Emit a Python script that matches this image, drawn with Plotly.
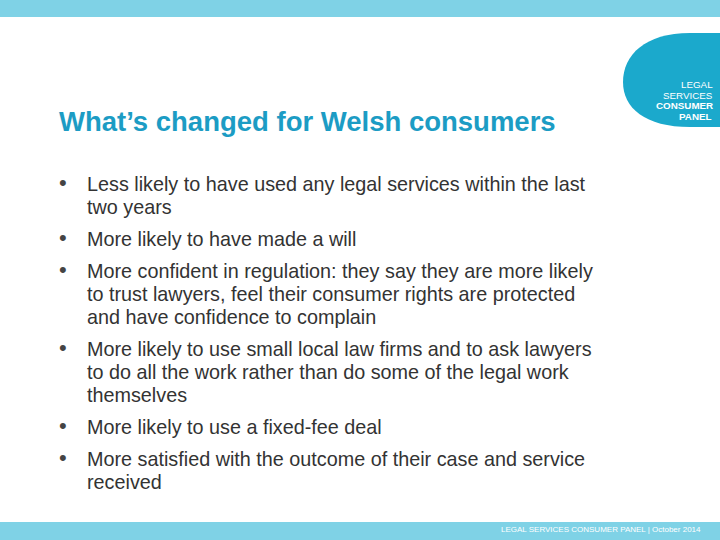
import plotly.graph_objects as go

# --- SLIDE CONTENT ---
title = "What’s changed for Welsh consumers"
bullets = [
    ["Less likely to have used any legal services within the last", "two years"],
    ["More likely to have made a will"],
    ["More confident in regulation: they say they are more likely",
     "to trust lawyers, feel their consumer rights are protected",
     "and have confidence to complain"],
    ["More likely to use small local law firms and to ask lawyers",
     "to do all the work rather than do some of the legal work",
     "themselves"],
    ["More likely to use a fixed-fee deal"],
    ["More satisfied with the outcome of their case and service", "received"],
]
logo_lines = ["LEGAL", "SERVICES", "CONSUMER", "PANEL"]
footer = "LEGAL SERVICES CONSUMER PANEL | October 2014"

FONT = "Liberation Sans, Arial, sans-serif"
LIGHT = "#7fd2e6"
BLUE = "#1ba9cc"

fig = go.Figure()
fig.add_trace(go.Scatter(x=[0, 720], y=[0, 540], mode="markers", marker=dict(opacity=0), hoverinfo="skip"))

# top / bottom bars
fig.add_shape(type="rect", x0=0, x1=720, y0=0, y1=17, fillcolor=LIGHT, line_width=0)
fig.add_shape(type="rect", x0=0, x1=720, y0=522, y1=540, fillcolor=LIGHT, line_width=0)

# logo blob
fig.add_shape(type="path",
              path="M 720 33 L 690 33 C 645 33 623 55 623 82 C 623 108 645 127 690 127 L 720 127 Z",
              fillcolor=BLUE, line_width=0)
logo_y = [84, 95, 105.5, 116]
for i, t in enumerate(logo_lines):
    bold = i >= 2
    fig.add_annotation(x=715 if i < 3 else 713, y=logo_y[i], text=f"<b>{t}</b>" if bold else t,
                       xanchor="right", yanchor="middle", showarrow=False,
                       font=dict(family=FONT, size=9.8, color="white"))

fig.add_annotation(x=57, y=121, text=f"<b>{title}</b>", xanchor="left", yanchor="middle",
                   showarrow=False, font=dict(family=FONT, size=27.5, color="#1c9cc4"))

y = 184
for b in bullets:
    fig.add_annotation(x=57, y=y - 2, text="•", xanchor="left", yanchor="middle",
                       showarrow=False, font=dict(family=FONT, size=22, color="#444"))
    for line in b:
        fig.add_annotation(x=85, y=y, text=line, xanchor="left", yanchor="middle",
                           showarrow=False, font=dict(family=FONT, size=19.8, color="#333"))
        y += 23
    y += 9

fig.add_annotation(x=703, y=529, text=footer, xanchor="right", yanchor="middle",
                   showarrow=False, font=dict(family=FONT, size=8, color="white"))

fig.update_xaxes(range=[0, 720], visible=False, fixedrange=True)
fig.update_yaxes(range=[540, 0], visible=False, fixedrange=True)
fig.update_layout(width=720, height=540, margin=dict(l=0, r=0, t=0, b=0),
                  paper_bgcolor="white", plot_bgcolor="white", showlegend=False)
fig.write_html("out.html", config={"displayModeBar": False},
               post_script="document.body.style.margin='0';")
